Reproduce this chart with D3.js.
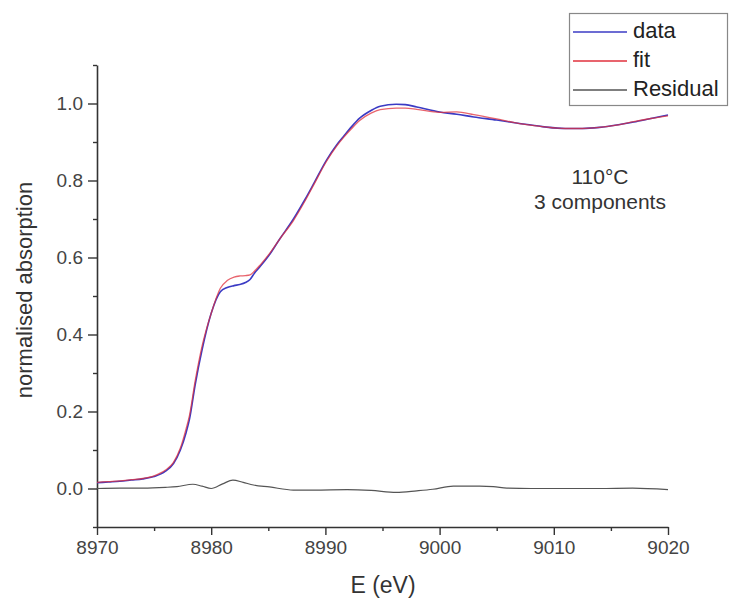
<!DOCTYPE html>
<html><head><meta charset="utf-8">
<script src="https://cdn.jsdelivr.net/npm/d3@7/dist/d3.min.js"></script>
<style>body{margin:0;background:#fff;}svg{display:block;font-family:"Liberation Sans",Arial,sans-serif;}</style>
</head><body><svg id="c" width="731" height="603"></svg>
<script>
const energyData = [8970,8971,8972,8973,8974,8975,8976,8976.7,8977.3,8977.8,8978.1,8978.6,8979.2,8980.0,8980.8,8981.4,8982.0,8982.5,8983.0,8983.4,8983.8,8984.3,8985,8986,8987.2,8988.2,8989,8990.1,8991,8991.6,8992.3,8993.0,8994,8994.8,8996.2,8997,8998,9000,9001.5,9003,9005,9007,9009,9011,9012.5,9014,9015.5,9017,9018.5,9020];
const dataValues = [0.015,0.017,0.019,0.022,0.025,0.031,0.045,0.065,0.10,0.145,0.18,0.27,0.36,0.455,0.511,0.522,0.527,0.530,0.535,0.543,0.560,0.577,0.603,0.648,0.700,0.750,0.793,0.853,0.893,0.915,0.94,0.962,0.982,0.993,0.998,0.997,0.991,0.978,0.972,0.965,0.957,0.948,0.940,0.935,0.935,0.938,0.944,0.952,0.961,0.970];
const fitValues = [0.016,0.018,0.020,0.023,0.026,0.033,0.048,0.068,0.105,0.155,0.19,0.28,0.37,0.455,0.52,0.54,0.549,0.552,0.553,0.555,0.565,0.581,0.606,0.648,0.696,0.746,0.790,0.850,0.890,0.912,0.935,0.956,0.975,0.984,0.988,0.988,0.985,0.977,0.978,0.971,0.960,0.948,0.940,0.935,0.935,0.938,0.944,0.953,0.961,0.968];
const energyResidual = [8970,8972,8974,8976,8977,8978.4,8979.2,8980.0,8981.0,8981.9,8982.8,8983.7,8985.1,8987.2,8989,8991.9,8994,8996.2,8998,8999.4,9001.2,9003.5,9004.7,9005.9,9008,9011.1,9014,9016.9,9020];
const residualValues = [0.000,0.001,0.001,0.003,0.005,0.011,0.006,0.000,0.012,0.022,0.016,0.009,0.004,-0.004,-0.004,-0.003,-0.005,-0.010,-0.006,-0.002,0.006,0.006,0.005,0.001,0.000,0.000,0.000,0.001,-0.003];
const xTicks = [8970,8980,8990,9000,9010,9020];
const xMinor = [8975,8985,8995,9005,9015];
const yTicks = [0.0,0.2,0.4,0.6,0.8,1.0];
const yMinor = [-0.1,0.1,0.3,0.5,0.7,0.9,1.1];
const legendLabels = ["data","fit","Residual"];
const seriesColors = ["#3b3bc4","#e0303c","#555555"];

const svg = d3.select("#c");
const x = d3.scaleLinear().domain([8970,9020]).range([97,668]);
const y = d3.scaleLinear().domain([-0.1,1.1]).range([527,65]);

const axisCol = "#333";
// x axis
const gx = svg.append("g").attr("transform","translate(0,527)");
gx.call(d3.axisBottom(x).tickValues(xTicks).tickSize(8).tickSizeOuter(0).tickFormat(d3.format("d")));
gx.append("g").call(d3.axisBottom(x).tickValues(xMinor).tickSize(4).tickFormat("")).select(".domain").remove();
gx.selectAll(".domain").attr("stroke",axisCol).attr("stroke-width",1.6);
gx.selectAll(".tick line").attr("stroke",axisCol).attr("stroke-width",1.4);
gx.selectAll(".tick text").attr("fill","#444").attr("font-size","19px").attr("font-family","Liberation Sans, Arial, sans-serif").attr("y",14);

// y axis
const gy = svg.append("g").attr("transform","translate(97,0)");
gy.call(d3.axisLeft(y).tickValues(yTicks).tickSize(9).tickSizeOuter(0).tickFormat(d3.format(".1f")));
gy.append("g").call(d3.axisLeft(y).tickValues(yMinor).tickSize(4).tickFormat("")).select(".domain").remove();
gy.selectAll(".domain").attr("stroke",axisCol).attr("stroke-width",1.6);
gy.selectAll(".tick line").attr("stroke",axisCol).attr("stroke-width",1.4);
gy.selectAll(".tick text").attr("fill","#444").attr("font-size","19px").attr("font-family","Liberation Sans, Arial, sans-serif").attr("x",-14);

// titles
svg.append("text").attr("x",383).attr("y",593).attr("text-anchor","middle").attr("font-size","23px").attr("fill","#333").text("E (eV)");
svg.append("text").attr("transform","translate(24,290) rotate(-90)").attr("text-anchor","middle").attr("dominant-baseline","central").attr("font-size","22px").attr("fill","#333").text("normalised absorption");

// lines
const line = (xs) => d3.line().x((d,i)=>x(xs[i])).y(d=>y(d)).curve(d3.curveMonotoneX);
svg.append("path").attr("d",line(energyResidual)(residualValues)).attr("fill","none").attr("stroke",seriesColors[2]).attr("stroke-width",1.2);
svg.append("path").attr("d",line(energyData)(dataValues)).attr("fill","none").attr("stroke",seriesColors[0]).attr("stroke-width",1.6);
svg.append("path").attr("d",line(energyData)(fitValues)).attr("fill","none").attr("stroke",seriesColors[1]).attr("stroke-width",1.3).attr("stroke-opacity",0.75);

// annotation
svg.append("text").attr("x",600).attr("y",184).attr("text-anchor","middle").attr("font-size","21px").attr("fill","#333").text("110°C");
svg.append("text").attr("x",600).attr("y",209).attr("text-anchor","middle").attr("font-size","21px").attr("fill","#333").text("3 components");

// legend
const lg = svg.append("g");
lg.append("rect").attr("x",569.5).attr("y",13.5).attr("width",158).attr("height",92).attr("fill","#fff").attr("stroke","#888").attr("stroke-width",1.2);
legendLabels.forEach((lab,i)=>{
  const yy = 32 + i*29;
  lg.append("line").attr("x1",573).attr("x2",627).attr("y1",yy).attr("y2",yy).attr("stroke",seriesColors[i]).attr("stroke-width",1.4);
  lg.append("text").attr("x",633).attr("y",yy+6).attr("font-size","22px").attr("fill","#222").text(lab);
});
</script></body></html>
